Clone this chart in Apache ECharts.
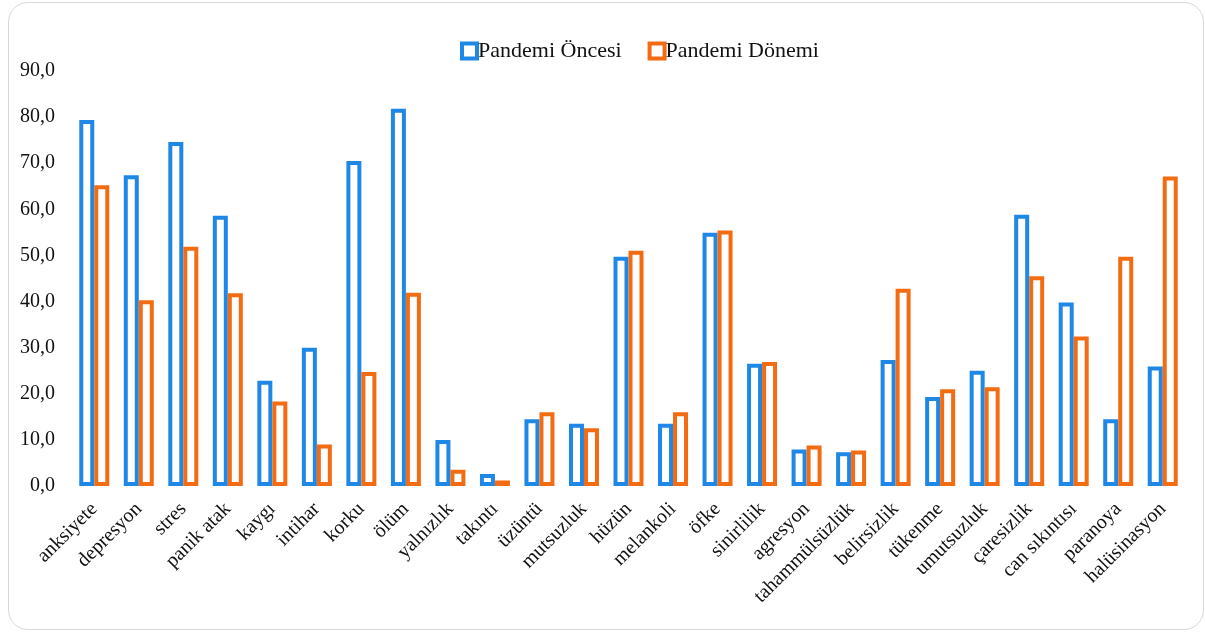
<!DOCTYPE html>
<html>
<head>
<meta charset="utf-8">
<style>
html,body{margin:0;padding:0;background:#fff;}
#wrap{position:absolute;left:8px;top:2px;width:1196px;height:628px;border:1.5px solid #d9d9d9;border-radius:20px;box-sizing:border-box;}
#chart{position:absolute;left:0;top:0;width:1205px;height:632px;}
</style>
<script src="https://cdn.jsdelivr.net/npm/echarts@6/dist/echarts.min.js"></script>
</head>
<body>
<div id="wrap"></div>
<div id="chart"></div>
<script>
const categories = ['anksiyete','depresyon','stres','panik atak','kaygı','intihar','korku','ölüm','yalnızlık','takıntı','üzüntü','mutsuzluk','hüzün','melankoli','öfke','sinirlilik','agresyon','tahammülsüzlük','belirsizlik','tükenme','umutsuzluk','çaresizlik','can sıkıntısı','paranoya','halüsinasyon'];
const seriesNames = ['Pandemi Öncesi','Pandemi Dönemi'];
const oncesi = [79.4,67.4,74.6,58.6,22.8,30.0,70.5,81.8,10.0,2.6,14.5,13.5,49.7,13.5,54.9,26.5,7.9,7.3,27.3,19.3,25.0,58.8,39.8,14.5,25.9];
const donemi = [65.2,40.3,51.9,41.8,18.3,9.0,24.7,41.9,3.5,1.2,16.0,12.5,51.0,16.0,55.4,26.9,8.8,7.7,42.8,21.0,21.4,45.5,32.4,49.7,67.1];
const yTicks = {min:0, max:90, interval:10};

const BLUE = '#1f88e6', ORANGE = '#f36c12';
const FONT = '"Liberation Serif","DejaVu Serif",serif';
const chart = echarts.init(document.getElementById('chart'), null, {renderer:'canvas'});
chart.setOption({
  animation:false,
  backgroundColor:'transparent',
  legend:{
    top:35, left:455, itemGap:26, itemWidth:15, itemHeight:15,
    icon:'rect',
    itemStyle:{borderWidth:4},
    textStyle:{fontFamily:FONT, fontSize:22, color:'#111', padding:[0,0,0,-4]},
    data:seriesNames
  },
  grid:{left:72, right:20, top:71, bottom:146, containLabel:false},
  xAxis:{
    type:'category', data:categories,
    axisLine:{show:false}, axisTick:{show:false},
    axisLabel:{rotate:45, interval:0, margin:20, fontFamily:FONT, fontSize:20, color:'#111'}
  },
  yAxis:{
    type:'value', min:yTicks.min, max:yTicks.max, interval:yTicks.interval,
    splitLine:{show:false}, axisLine:{show:false}, axisTick:{show:false},
    axisLabel:{margin:17, fontFamily:FONT, fontSize:20, color:'#111',
      formatter:v=>v.toFixed(1).replace('.',',')}
  },
  series:[
    {name:seriesNames[0], type:'bar', data:oncesi, barWidth:15, barGap:'0%',
     itemStyle:{color:'#fff', borderColor:BLUE, borderWidth:4}},
    {name:seriesNames[1], type:'bar', data:donemi, barWidth:15, barGap:'0%',
     itemStyle:{color:'#fff', borderColor:ORANGE, borderWidth:4}}
  ]
});
</script>
</body>
</html>
